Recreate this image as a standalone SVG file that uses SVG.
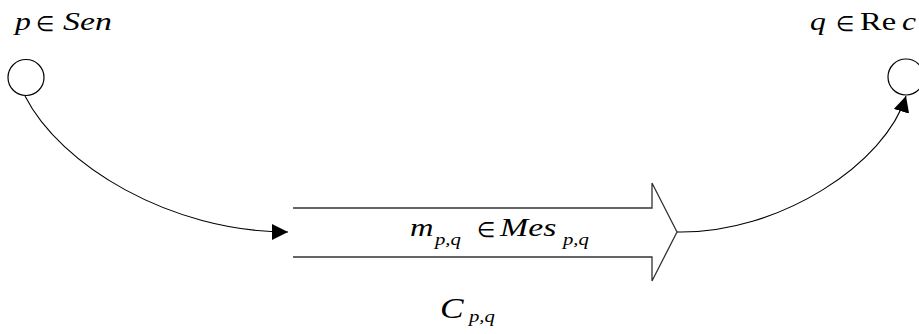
<svg xmlns="http://www.w3.org/2000/svg" width="919" height="334" viewBox="0 0 919 334">
<style>
.node{fill:#fff;stroke:#000;stroke-width:1.2}
.chan{fill:none;stroke:#333;stroke-width:1.3}
.conn{fill:none;stroke:#000;stroke-width:1.1}
text{font-family:"Liberation Serif","Times New Roman",serif;fill:#000}
.i{font-style:italic}
.t{font-size:26px}
.s{font-size:17px}
.e{font-size:21px}
</style>
<defs>
<marker id="ah" markerUnits="userSpaceOnUse" markerWidth="16" markerHeight="16" viewBox="0 0 14 14" refX="14" refY="7" orient="auto">
<path d="M0,0 L14,7 L0,14 Z" fill="#000"/>
</marker>
</defs>
<g id="sender">
<circle class="node" cx="26" cy="77.5" r="18"/>
<text class="t i" transform="translate(15,30) scale(1.22,1)">p</text>
<text class="e" x="36" y="31">∈</text>
<text class="t i" transform="translate(63,30) scale(1.3,1)">Sen</text>
</g>
<g id="receiver">
<circle class="node" cx="906" cy="77" r="18"/>
<text class="t i" transform="translate(810,30) scale(1.22,1)">q</text>
<text class="e" x="836" y="31">∈</text>
<text class="t" transform="translate(860,30) scale(1.25,1)">Re</text>
<text class="t i" transform="translate(902,30) scale(1.22,1)">c</text>
</g>
<g id="channel">
<path class="chan" d="M293,208 H652 V183 L677,232 L652,281 V257 H293"/>
<text class="t i" transform="translate(410,236) scale(1.25,1)">m</text>
<text class="s i" transform="translate(435,245) scale(1.22,1)">p,q</text>
<text class="e" x="477" y="237">∈</text>
<text class="t i" transform="translate(500,236) scale(1.3,1)">Mes</text>
<text class="s i" transform="translate(563,245) scale(1.22,1)">p,q</text>
<text class="i" style="font-size:29px" transform="translate(440,318) scale(1.22,1)">C</text>
<text class="s i" transform="translate(469,322) scale(1.22,1)">p,q</text>
</g>
<g id="connectors">
<path class="conn" d="M25,96 C60,165 170,232 288,232" marker-end="url(#ah)"/>
<path class="conn" d="M677,232 C780,234 886,163 906,96" marker-end="url(#ah)"/>
</g>
</svg>
